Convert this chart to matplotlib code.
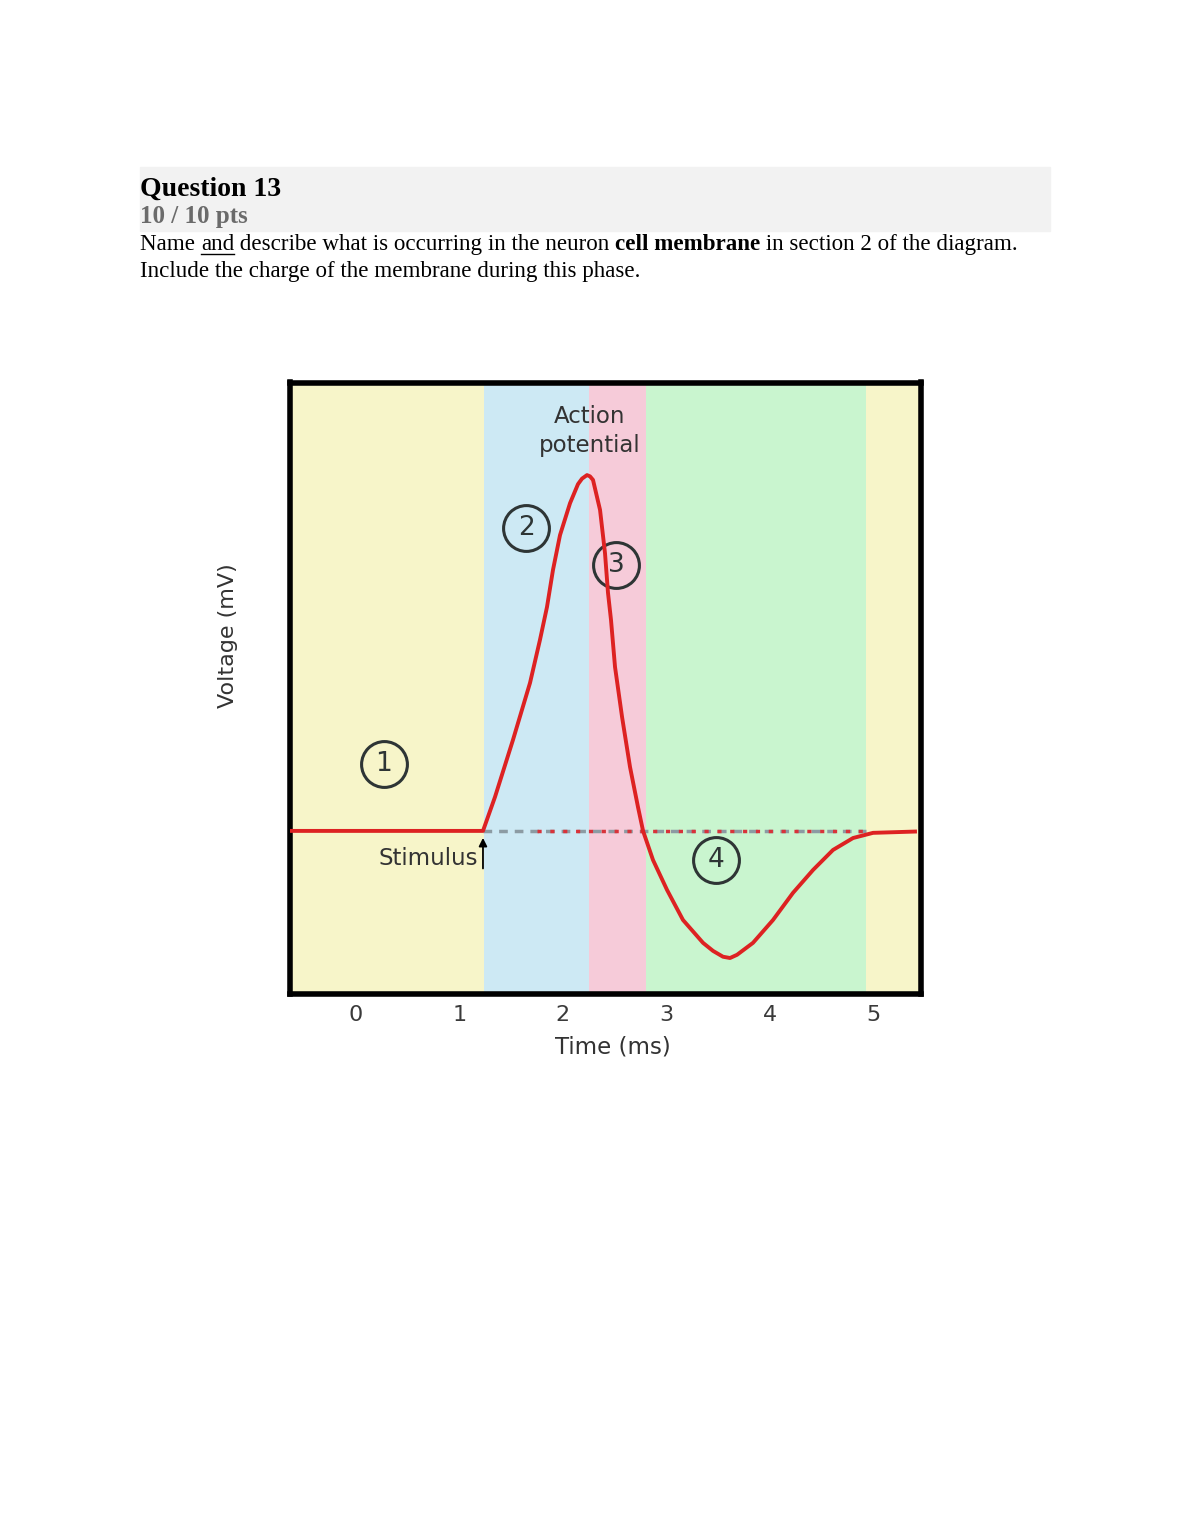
import matplotlib.pyplot as plt

# membrane voltage trace
time_ms = [-0.65, 1.228, 1.344, 1.518, 1.683, 1.779, 1.847, 1.905, 1.973, 2.070, 2.147,
           2.186, 2.234, 2.263, 2.292, 2.360, 2.408, 2.437, 2.466, 2.505, 2.573, 2.650,
           2.727, 2.776, 2.872, 3.008, 3.162, 3.356, 3.453, 3.549, 3.617, 3.685, 3.839,
           4.033, 4.226, 4.420, 4.613, 4.807, 5.000, 5.406]
voltage_mv = [-70, -70, -59.5, -41.8, -24.1, -10.8, -0.6, 10.9, 21.7, 31.6, 37.5,
              39.2, 40.3, 39.9, 38.8, 29.5, 16.1, 3.8, -4.6, -19.2, -34.7, -50.2,
              -62.6, -70, -79.0, -88.3, -97.6, -104.7, -107.2, -109.0, -109.4, -108.4, -104.7,
              -97.6, -89.2, -82.1, -75.9, -72.2, -70.6, -70.2]

resting_mv = -70
stimulus_ms = 1.228
phase_edges = [-0.7, 1.24, 2.25, 2.80, 4.93, 5.5]
phase_colors = ["#f7f5c9", "#cde9f4", "#f6cbd9", "#c9f5cf", "#f7f5c9"]

ticks = [0, 1, 2, 3, 4, 5]
phase_labels = ["1", "2", "3", "4"]
phase_label_t = [0.27, 1.645, 2.515, 3.48]
phase_label_v = [-49.3, 24.0, 12.4, -79.0]

W, H = 1190, 1540


def fx(px):
    return px / W


def fy(py):
    return 1 - py / H


fig = plt.figure(figsize=(W / 100, H / 100), dpi=100)

# question header
fig.patches.append(plt.Rectangle((fx(140), fy(231)), fx(1050) - fx(140), fy(167) - fy(231),
                                 transform=fig.transFigure, color="#f2f2f2", zorder=0))
fig.text(fx(140), fy(196), "Question 13", family="Liberation Serif", weight="bold",
         fontsize=20, va="baseline")
fig.text(fx(140), fy(223), "10 / 10 pts", family="Liberation Serif", weight="bold",
         fontsize=18, color="#6b6b6b", va="baseline")

renderer = fig.canvas.get_renderer()
pieces = [("Name ", "normal", False), ("and", "normal", True),
          (" describe what is occurring in the neuron ", "normal", False),
          ("cell membrane", "bold", False), (" in section 2 of the diagram.", "normal", False)]
x = fx(140)
for s, w, under in pieces:
    t = fig.text(x, fy(250), s, family="Liberation Serif", weight=w, fontsize=16.6,
                 va="baseline")
    bb = t.get_window_extent(renderer)
    if under:
        fig.add_artist(plt.Line2D([bb.x0 / W, bb.x1 / W], [fy(254), fy(254)], color="black",
                                  lw=1, transform=fig.transFigure))
    x = bb.x1 / W
fig.text(fx(140), fy(277), "Include the charge of the membrane during this phase.",
         family="Liberation Serif", fontsize=16.6, va="baseline")

# chart
ax = fig.add_axes([fx(289.5), fy(993.5), fx(920.5) - fx(289.5), fy(382.5) - fy(993.5)])
for i, c in enumerate(phase_colors):
    ax.axvspan(phase_edges[i], phase_edges[i + 1], color=c, lw=0, zorder=0)

ax.hlines(resting_mv, stimulus_ms, phase_edges[4], colors="#8c9ba3", lw=2.5,
          linestyles=(0, (2.5, 2)), zorder=2)
ax.hlines(resting_mv, 1.75, phase_edges[4], colors="#d8333a", lw=2.5,
          linestyles=(0, (1.2, 2.5)), zorder=2)

for lab, t, v in zip(phase_labels, phase_label_t, phase_label_v):
    ax.plot(t, v, "o", ms=33, mfc="none", mec="#2e3535", mew=2.2, zorder=3)
    ax.text(t, v, lab, ha="center", va="center", fontsize=19, color="#2e3535", zorder=3)

ax.plot(time_ms, voltage_mv, color="#dd2222", lw=2.8, solid_joinstyle="round", zorder=4)

ax.annotate("", xy=(stimulus_ms, -71.3), xytext=(stimulus_ms, -82.5),
            arrowprops=dict(arrowstyle="-|>", color="black", lw=1.3, mutation_scale=12), zorder=5)
ax.text(1.18, -78.4, "Stimulus", ha="right", va="center", fontsize=16.5, color="#333333")
ax.text(2.26, 54, "Action\npotential", ha="center", va="center", fontsize=16.5,
        color="#333333", linespacing=1.35)

ax.set_xlim(-0.643, 5.459)
ax.set_ylim(-120.4, 69.0)
ax.set_xticks(ticks)
ax.set_xticklabels([str(t) for t in ticks], fontsize=16, color="#3a3a3a")
ax.tick_params(axis="x", length=0, pad=8)
ax.set_yticks([])
for sp in ax.spines.values():
    sp.set_linewidth(4)
    sp.set_color("black")
    sp.set_capstyle("projecting")

fig.text(fx(613), fy(1047), "Time (ms)", ha="center", va="center", fontsize=16.5,
         color="#333333")
fig.text(fx(228), fy(636), "Voltage (mV)", ha="center", va="center", rotation=90,
         fontsize=16, color="#333333")

fig.savefig("out.png", dpi=100)
